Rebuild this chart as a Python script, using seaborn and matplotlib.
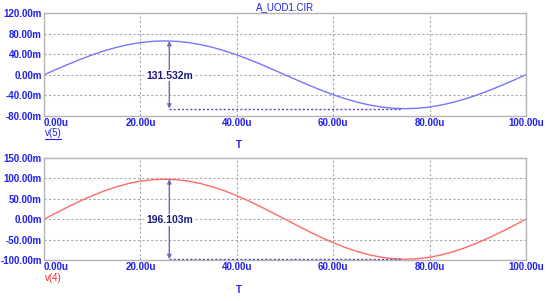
import numpy as np
import pandas as pd
import matplotlib
matplotlib.use("Agg")
import matplotlib.pyplot as plt
from matplotlib.lines import Line2D
import seaborn as sns

# ---- data ----
t_us = [0, 2.5, 5, 7.5, 10, 12.5, 15, 17.5, 20, 22.5, 25, 27.5, 30, 32.5, 35, 37.5,
        40, 42.5, 45, 47.5, 50, 52.5, 55, 57.5, 60, 62.5, 65, 67.5, 70, 72.5, 75,
        77.5, 80, 82.5, 85, 87.5, 90, 92.5, 95, 97.5, 100]
v5_mV = [0, 10.3, 20.3, 29.9, 38.7, 46.5, 53.2, 58.6, 62.6, 65.0, 65.8, 65.0, 62.6,
         58.6, 53.2, 46.5, 38.7, 29.9, 20.3, 10.3, 0, -10.3, -20.3, -29.9, -38.7,
         -46.5, -53.2, -58.6, -62.6, -65.0, -65.8, -65.0, -62.6, -58.6, -53.2,
         -46.5, -38.7, -29.9, -20.3, -10.3, 0]
v4_mV = [0, 15.3, 30.3, 44.5, 57.6, 69.3, 79.3, 87.4, 93.3, 96.8, 98.1, 96.8, 93.3,
         87.4, 79.3, 69.3, 57.6, 44.5, 30.3, 15.3, 0, -15.3, -30.3, -44.5, -57.6,
         -69.3, -79.3, -87.4, -93.3, -96.8, -98.1, -96.8, -93.3, -87.4, -79.3,
         -69.3, -57.6, -44.5, -30.3, -15.3, 0]

x_ticks = [0, 20, 40, 60, 80, 100]
x_ticklabels = ["0.00u", "20.00u", "40.00u", "60.00u", "80.00u", "100.00u"]
top_yticks = [-80, -40, 0, 40, 80, 120]
top_yticklabels = ["-80.00m", "-40.00m", "0.00m", "40.00m", "80.00m", "120.00m"]
bot_yticks = [-100, -50, 0, 50, 100, 150]
bot_yticklabels = ["-100.00m", "-50.00m", "0.00m", "50.00m", "100.00m", "150.00m"]

cursor_start = [26.0, 26.0]       # cursor t for top / bottom
cursor_end = [74.0, 74.0]         # end of dotted line
measure_top = [65.766, -65.766]
measure_bot = [98.05, -98.053]
label_top = "131.532m"
label_bot = "196.103m"

title = "A_UOD1.CIR"

df = pd.DataFrame({"t": t_us, "v5": v5_mV, "v4": v4_mV})

sns.set_style("white")
plt.rcParams["font.family"] = ["Liberation Sans", "DejaVu Sans"]

fig = plt.figure(figsize=(5.52, 3.01), dpi=100)
W, H = 552, 301

def frac_box(l, t, r, b):
    return [l / W, 1 - b / H, (r - l) / W, (b - t) / H]

ax1 = fig.add_axes(frac_box(44, 13, 526, 116))
ax2 = fig.add_axes(frac_box(44, 158, 526, 260))

tick_color = "#1f1ff0"
navy = "#1a1a80"

def style(ax, yticks, ylabels, ylim):
    ax.set_xlim(0, 100)
    ax.set_ylim(*ylim)
    ax.set_xticks(x_ticks)
    ax.set_xticklabels(x_ticklabels)
    ax.set_yticks(yticks)
    ax.set_yticklabels(ylabels)
    ax.tick_params(length=0, labelsize=7, colors=tick_color, pad=1.5)
    for lab in ax.get_xticklabels() + ax.get_yticklabels():
        lab.set_fontweight("bold")
    ax.get_xticklabels()[0].set_horizontalalignment("left")
    ax.grid(True, linestyle=(0, (2, 2)), color="#a8a8a8", linewidth=0.8)
    for s in ax.spines.values():
        s.set_color("#b4b4b4")
        s.set_linewidth(1.0)
    ax.set_xlabel("")
    ax.set_ylabel("")

sns.lineplot(data=df, x="t", y="v5", ax=ax1, color="#7676ff", linewidth=1.0)
sns.lineplot(data=df, x="t", y="v4", ax=ax2, color="#ff6a6a", linewidth=1.0)
style(ax1, top_yticks, top_yticklabels, (-80, 120))
style(ax2, bot_yticks, bot_yticklabels, (-100, 150))

def measure(ax, x0, x1, vals, label):
    ax.plot([x0, x1], [vals[1], vals[1]], linestyle=(0, (1.5, 1.5)),
            color="#5050c0", linewidth=1.0, zorder=3)
    ax.annotate("", xy=(x0, vals[0]), xytext=(x0, vals[1]),
                arrowprops=dict(arrowstyle="<|-|>", color="#6a6ab8", lw=1.0,
                                mutation_scale=6, shrinkA=0, shrinkB=0), zorder=4)
    ax.text(x0, (vals[0] + vals[1]) / 2 - 2, label, ha="center", va="center",
            fontsize=7.5, fontweight="bold", color=navy, zorder=5,
            bbox=dict(boxstyle="square,pad=0.05", fc="white", ec="none"))

measure(ax1, cursor_start[0], cursor_end[0], measure_top, label_top)
measure(ax2, cursor_start[1], cursor_end[1], measure_bot, label_bot)

fig.text(285 / W, 1 - 7 / H, title, ha="center", va="center", fontsize=7,
         color=tick_color)
fig.text(239 / W, 1 - 145 / H, "T", ha="center", va="center", fontsize=7,
         color=tick_color, fontweight="bold")
fig.text(239 / W, 1 - 290 / H, "T", ha="center", va="center", fontsize=7,
         color=tick_color, fontweight="bold")
fig.text(45 / W, 1 - 133 / H, "v(5)", ha="left", va="center", fontsize=7,
         color=tick_color)
fig.add_artist(Line2D([45 / W, 61 / W], [1 - 138.5 / H, 1 - 138.5 / H],
                      color=tick_color, linewidth=0.8))
fig.text(45 / W, 1 - 278 / H, "v(4)", ha="left", va="center", fontsize=7,
         color="#ff2020")

fig.savefig("out.png", dpi=100)
